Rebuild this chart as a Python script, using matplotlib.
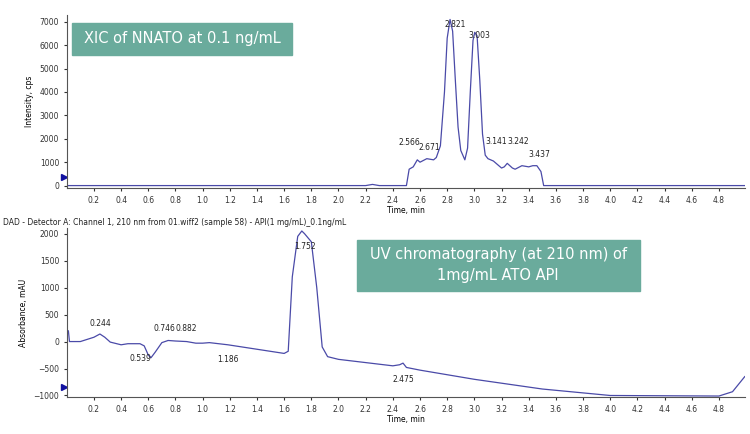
import matplotlib
matplotlib.use("Agg")
import matplotlib.pyplot as plt
from matplotlib.patches import Rectangle
import numpy as np

xic_t = [0, 2.2, 2.25, 2.3, 2.5, 2.52, 2.55, 2.58, 2.6, 2.65, 2.7, 2.72, 2.75, 2.78, 2.8, 2.821, 2.84, 2.86, 2.88, 2.9, 2.93,
         2.95, 2.97, 2.99, 3.003, 3.02, 3.04, 3.06, 3.08, 3.1, 3.14, 3.2, 3.22, 3.242, 3.28, 3.3, 3.35, 3.4, 3.43, 3.46, 3.49, 3.51, 4.99]
xic_v = [0, 0, 50, 0, 0, 700, 800, 1100, 1000, 1150, 1100, 1200, 1700, 4000, 6300, 7100, 6600, 4500, 2500, 1500, 1100,
         1600, 4000, 6200, 6550, 6400, 4500, 2200, 1300, 1150, 1050, 750, 800, 950, 750, 700, 850, 800, 850, 850, 600, 0, 0]
xic_peaks = [(2.566, 1100, 2.52, 1650), (2.671, 1150, 2.67, 1450), (2.821, 7100, 2.86, 6700), (3.003, 6550, 3.04, 6200),
             (3.141, 1100, 3.16, 1700), (3.242, 950, 3.32, 1700), (3.437, 850, 3.48, 1150)]

uv_t = [0, 0.005, 0.012, 0.02, 0.1, 0.2, 0.244, 0.28, 0.32, 0.4, 0.45, 0.539, 0.57, 0.6, 0.62, 0.65, 0.7, 0.746, 0.8,
        0.882, 0.95, 1.0, 1.05, 1.186, 1.6, 1.63, 1.66, 1.7, 1.73, 1.75, 1.8, 1.84, 1.88, 1.92, 2.0, 2.4, 2.45, 2.475,
        2.5, 2.6, 3.0, 3.5, 4.0, 4.8, 4.9, 4.99]
uv_v = [0, 200, 200, 0, 0, 80, 140, 80, -10, -60, -40, -40, -80, -250, -300, -200, -20, 20, 10,
        0, -30, -30, -20, -60, -220, -180, 1200, 1950, 2050, 2000, 1850, 1000, -100, -280, -330, -450, -430, -400,
        -480, -530, -700, -880, -1000, -1010, -930, -650]
uv_peaks = [(0.244, 140, 0.244, 260), (0.539, -40, 0.539, -230), (0.746, 20, 0.72, 160), (0.882, 0, 0.882, 160),
            (1.186, -60, 1.186, -250), (1.752, 2050, 1.75, 1850), (2.475, -400, 2.475, -620)]

lc = "#4a4aa8"
fig = plt.figure(figsize=(7.5, 4.34), dpi=100)
ax1 = fig.add_axes([0.089, 0.567, 0.904, 0.399])
ax2 = fig.add_axes([0.089, 0.085, 0.904, 0.389])

def style(ax):
    for s in ["top", "right"]:
        ax.spines[s].set_visible(False)
    ax.spines["left"].set_color("#555555")
    ax.spines["bottom"].set_color("#555555")
    ax.set_xlim(0, 4.99)
    ax.set_xticks(np.round(np.arange(0.2, 4.81, 0.2), 1))
    ax.set_xticklabels([f"{v:.1f}" for v in np.arange(0.2, 4.81, 0.2)])
    ax.tick_params(labelsize=5.5, length=2, colors="#333333")
    ax.set_xlabel("Time, min", fontsize=5.5, labelpad=1)

ax1.plot(xic_t, xic_v, color=lc, lw=0.9)
ax1.set_ylim(-100, 7300)
ax1.set_yticks([0, 1000, 2000, 3000, 4000, 5000, 6000, 7000])
ax1.set_ylabel("Intensity, cps", fontsize=5.5)
style(ax1)
for x, y, tx, ty in xic_peaks:
    ax1.text(tx, ty, f"{x:.3f}", fontsize=5.5, ha="center", va="bottom", color="#222222")
ax1.plot([-0.02], [350], marker=">", color="#1010a0", ms=5, clip_on=False)

ax2.plot(uv_t, uv_v, color=lc, lw=0.9)
ax2.set_ylim(-1030, 2100)
ax2.set_yticks([-1000, -500, 0, 500, 1000, 1500, 2000])
ax2.set_ylabel("Absorbance, mAU", fontsize=5.5)
style(ax2)
for x, y, tx, ty in uv_peaks:
    ax2.text(tx, ty, f"{x:.3f}", fontsize=5.5, ha="center", va="bottom" if ty > y else "top", color="#222222")
ax2.plot([-0.02], [-850], marker=">", color="#1010a0", ms=5, clip_on=False)

fig.text(0.004, 0.487, "DAD - Detector A: Channel 1, 210 nm from 01.wiff2 (sample 58) - API(1 mg/mL)_0.1ng/mL",
         fontsize=5.5, color="#222222", va="center")

green = "#6aab9c"
fig.patches.append(Rectangle((72/750, 1-55/434), 220/750, 32/434, transform=fig.transFigure, color=green, zorder=5))
fig.text(182/750, 1-39/434, "XIC of NNATO at 0.1 ng/mL", fontsize=10.5, color="white", ha="center", va="center", zorder=6)
fig.patches.append(Rectangle((357/750, 1-291/434), 283/750, 51/434, transform=fig.transFigure, color=green, zorder=5))
fig.text(498/750, 1-265/434, "UV chromatography (at 210 nm) of\n1mg/mL ATO API", fontsize=10.5, color="white",
         ha="center", va="center", linespacing=1.5, zorder=6)

fig.savefig("out.png", dpi=100)
